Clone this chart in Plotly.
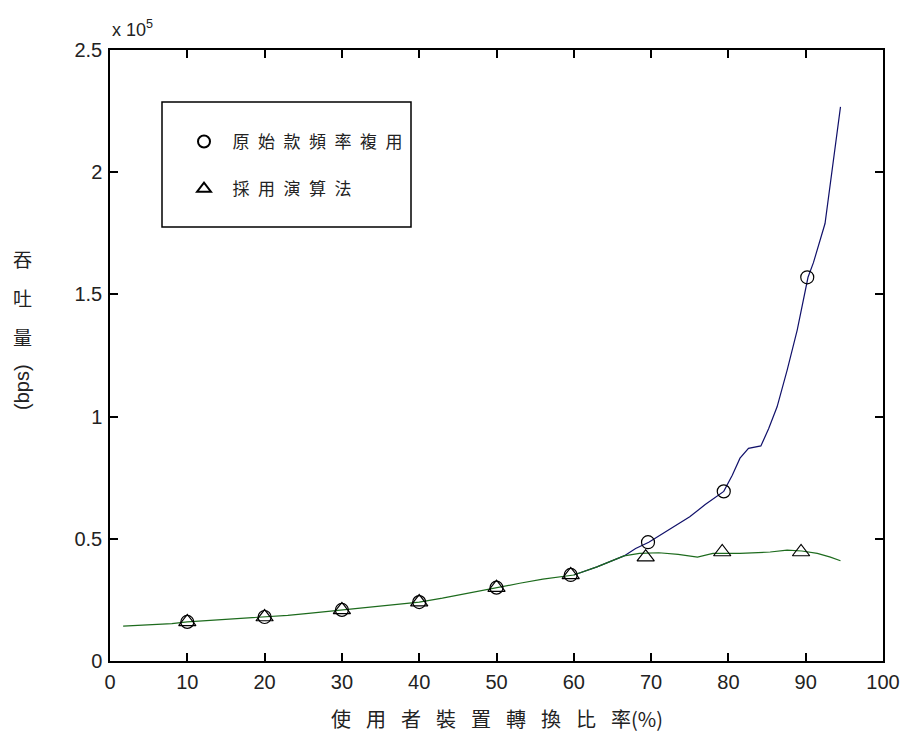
import plotly.graph_objects as go

# ---- data (throughput in bps) ----
marker_x_orig = [10, 20, 30, 40, 50, 59.6, 69.6, 79.4, 90.2]
marker_y_orig = [16000, 18000, 20900, 24100, 30000, 35200, 48600, 69400, 157000]
marker_x_alg = [10, 20, 30, 40, 50, 59.6, 69.3, 79.2, 89.4]
marker_y_alg = [16000, 18000, 20900, 24100, 30000, 35200, 42500, 44600, 44600]

line_x_orig = [60, 63, 66.5, 68, 69.7, 72, 75, 77, 79.4, 80.5, 81.5, 82.6, 84.2, 85.2,
               86.3, 87.6, 88.9, 90.3, 91.0, 92.5, 93.4, 94.1, 94.5]
line_y_orig = [35200, 38500, 43000, 46000, 48600, 53000, 59000, 64000, 69400, 76000,
               83000, 87000, 88000, 95000, 104000, 119000, 135400, 157000, 163000,
               179000, 200000, 217000, 226700]

line_x_alg = [1.7, 5, 8, 10, 13, 16, 20, 23, 26, 30, 33, 35, 40, 43, 46, 50, 53, 56, 60,
              63, 66.5, 68.5, 71, 73.5, 76, 78, 81.5, 85.4, 87.6, 89.5, 91.5, 93.2, 94.5]
line_y_alg = [14300, 14800, 15300, 16000, 16600, 17200, 18000, 18700, 19600, 20900,
              21800, 22500, 24100, 25700, 27600, 30000, 31800, 33500, 35200, 38500,
              43000, 44000, 44300, 43600, 42500, 44000, 44000, 44600, 45400, 45000,
              44000, 42500, 41000]

x_ticks = [0, 10, 20, 30, 40, 50, 60, 70, 80, 90, 100]
y_ticks = [0, 50000, 100000, 150000, 200000, 250000]
y_tick_text = ["0", "0.5", "1", "1.5", "2", "2.5"]

SP = "\u2002"
name_orig = SP + SP.join("原始款頻率複用")
name_alg = SP + SP.join("採用演算法")
x_title = "\u2002\u2005".join("使用者裝置轉換比率") + "(%)"

CJK = "Noto Sans CJK TC"
NUM = "Liberation Sans, Arial"

fig = go.Figure()
fig.add_trace(go.Scatter(x=line_x_orig, y=line_y_orig, mode="lines",
                         line=dict(color="#10106a", width=1.2), showlegend=False))
fig.add_trace(go.Scatter(x=line_x_alg, y=line_y_alg, mode="lines",
                         line=dict(color="#1d6b1d", width=1.2), showlegend=False))
fig.add_trace(go.Scatter(x=marker_x_orig, y=marker_y_orig, mode="markers", name=name_orig,
                         legendgroup="a",
                         marker=dict(symbol="circle-open", size=13, color="black",
                                     line=dict(width=1.2, color="black"))))
fig.add_trace(go.Scatter(x=marker_x_alg, y=marker_y_alg, mode="markers", name=name_alg,
                         legendgroup="b",
                         marker=dict(symbol="triangle-up-open", size=15, color="black",
                                     line=dict(width=1.2, color="black"))))

OFF = 8  # page body margin
W, H = 904, 732
L, R, T, B = 110 - OFF, 29, 50 - OFF, 79
pw, ph = W - L - R, H - T - B


def px(x):
    return (x - OFF - L) / pw


def py(y):
    return (H - B - (y - OFF)) / ph


fig.update_layout(
    width=W, height=H,
    margin=dict(l=L, r=R, t=T, b=B),
    paper_bgcolor="white", plot_bgcolor="white",
    font=dict(family=NUM, size=20, color="#222222"),
    showlegend=True,
    legend=dict(x=px(184), y=py(124), xanchor="left", yanchor="top",
                bgcolor="rgba(0,0,0,0)", borderwidth=0,
                font=dict(family=CJK, size=17, color="#222222"),
                tracegroupgap=22, itemsizing="constant"),
    xaxis=dict(range=[0, 100], tickvals=x_ticks, ticks="inside", ticklen=8,
               tickwidth=1.5, tickcolor="black", showline=True, linecolor="black",
               linewidth=1.5, mirror="ticks", showgrid=False, zeroline=False,
               tickfont=dict(family=NUM, size=20, color="#222222"),
               ticklabelstandoff=2),
    yaxis=dict(range=[0, 250000], tickvals=y_ticks, ticktext=y_tick_text,
               ticks="inside", ticklen=8, tickwidth=1.5, tickcolor="black",
               showline=True, linecolor="black", linewidth=1.5, mirror="ticks",
               showgrid=False, zeroline=False,
               tickfont=dict(family=NUM, size=20, color="#222222"),
               ticklabelstandoff=2),
    shapes=[dict(type="rect", xref="paper", yref="paper",
                 x0=px(162), x1=px(411), y0=py(227), y1=py(102),
                 line=dict(color="black", width=1.5), fillcolor="rgba(0,0,0,0)")],
    annotations=[
        dict(text="x 10<sup>5</sup>", xref="paper", yref="paper", x=px(110), y=py(42),
             xanchor="left", yanchor="bottom", showarrow=False,
             font=dict(family=NUM, size=18, color="#222222")),
        dict(text=x_title, xref="paper", yref="paper", x=px(497), y=py(718),
             xanchor="center", yanchor="middle", showarrow=False,
             font=dict(family=CJK, size=20, color="#222222")),
        dict(text="吞", xref="paper", yref="paper", x=px(22), y=py(258),
             xanchor="center", yanchor="middle", showarrow=False,
             font=dict(family=CJK, size=19, color="#222222")),
        dict(text="吐", xref="paper", yref="paper", x=px(22), y=py(297),
             xanchor="center", yanchor="middle", showarrow=False,
             font=dict(family=CJK, size=19, color="#222222")),
        dict(text="量", xref="paper", yref="paper", x=px(22), y=py(336),
             xanchor="center", yanchor="middle", showarrow=False,
             font=dict(family=CJK, size=19, color="#222222")),
        dict(text="(bps)", xref="paper", yref="paper", x=px(22), y=py(387),
             xanchor="center", yanchor="middle", showarrow=False, textangle=-90,
             font=dict(family=NUM, size=20, color="#222222")),
    ],
)

fig.write_html("out.html")
